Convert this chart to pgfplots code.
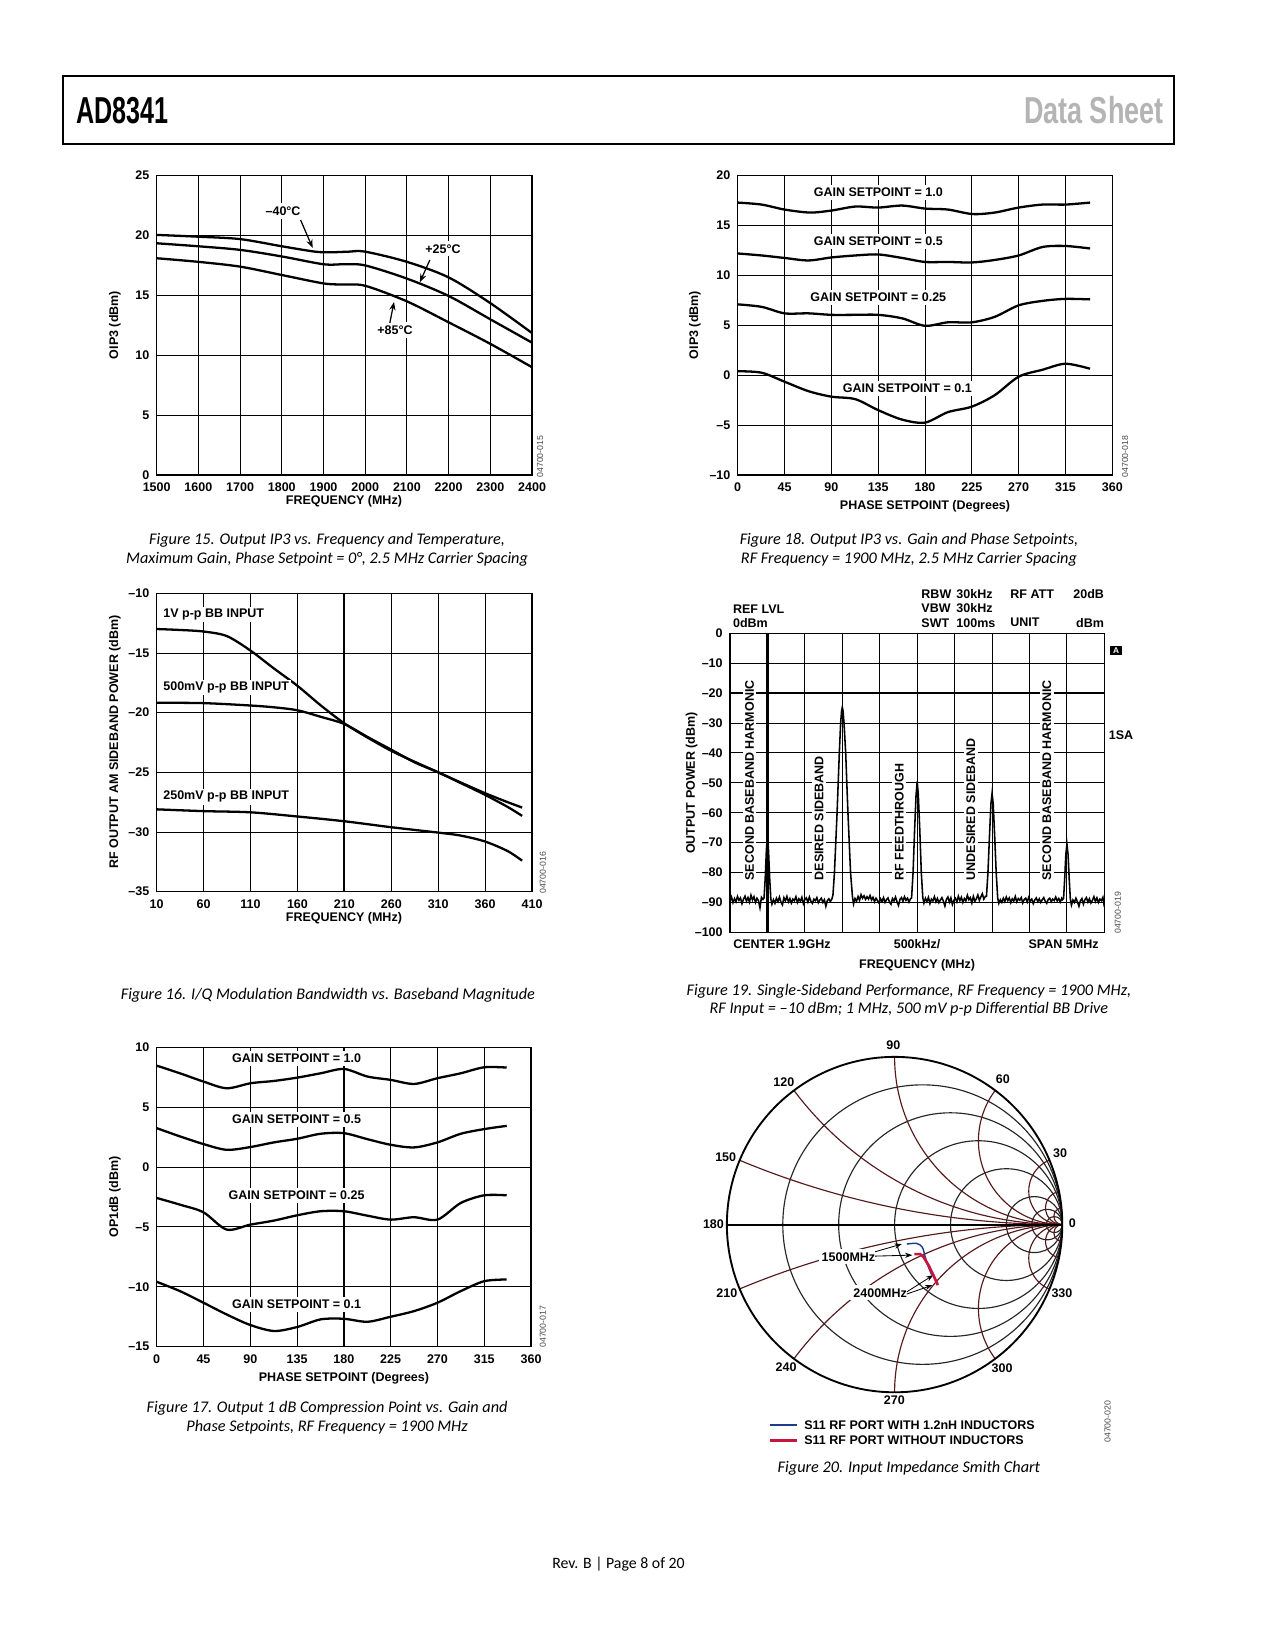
\documentclass[border=0pt]{standalone}
\usepackage{fontspec}
\setmainfont{Liberation Sans}
\newfontfamily\chartfont{Liberation Sans}
\newfontfamily\capfont{Carlito}
\usepackage{graphicx}
\usepackage{pgfplots}
\pgfplotsset{compat=1.18}
\usetikzlibrary{arrows.meta}

\newcommand\lab{\chartfont\bfseries\fontsize{6}{7.2}\selectfont}
\newcommand\capt{\capfont\itshape\fontsize{7.8}{8.8}\selectfont}
\newcommand\idf{\chartfont\fontsize{4.2}{5}\selectfont}

\definecolor{smithgrid}{RGB}{85,25,25}
\definecolor{trblue}{RGB}{30,60,140}
\definecolor{trred}{RGB}{200,20,60}
\definecolor{hdrgray}{RGB}{180,180,180}

\pgfplotsset{
  adi/.style={
    scale only axis,
    anchor=south west,
    axis line style={line width=0.6pt},
    grid=major,
    major grid style={line width=0.45pt,black},
    tick style={draw=none},
    ticklabel style={font=\lab},
    xticklabel style={text height=4.4pt,text depth=0pt},
    /pgf/number format/assume math mode=true,
  },
  curve/.style={black,line width=1.1pt,smooth,no markers},
}
\tikzset{
  rgrid/.style={line width=0.55pt,black!85},
  xgrid/.style={line width=0.55pt,smithgrid},
  tl/.style={font=\lab,inner sep=0pt},
}

\begin{document}
\begin{tikzpicture}
\fill[white] (0,0) rectangle (612pt,-792pt);
\path (0,0) rectangle (612pt,-792pt);

% page header
\draw[line width=1.2pt] (30.2pt,-36.5pt) rectangle (563.5pt,-69.1pt);
\node[anchor=base west,inner sep=0pt] at (36.5pt,-59.5pt)
  {\scalebox{0.67}[1]{\fontsize{18}{18}\selectfont\bfseries AD8341}};
\node[anchor=base east,inner sep=0pt,text=hdrgray] at (558.7pt,-59.5pt)
  {\scalebox{0.72}[1]{\fontsize{18}{18}\selectfont\bfseries Data Sheet}};

% ---------------- Figure 15 ----------------
\begin{axis}[adi, at={(75.2pt,-228pt)}, width=180.2pt, height=143.7pt,
  xmin=1500, xmax=2400, ymin=0, ymax=25,
  xtick={1500,1600,...,2400}, ytick={0,5,...,25},
  xticklabel style={/pgf/number format/1000 sep=}]
\addplot[curve] coordinates {(1500,20.05)(1600,19.9)(1700,19.7)(1800,19.1)(1880,18.65)(1920,18.6)(1960,18.65)(2000,18.65)(2100,17.8)(2200,16.5)(2300,14.35)(2400,11.85)};
\addplot[curve] coordinates {(1500,19.35)(1600,19.1)(1700,18.8)(1800,18.25)(1900,17.6)(1950,17.6)(2000,17.5)(2100,16.4)(2200,14.95)(2300,13.0)(2400,11.05)};
\addplot[curve] coordinates {(1500,18.1)(1600,17.8)(1700,17.4)(1800,16.7)(1900,16.0)(1950,15.9)(2000,15.8)(2100,14.5)(2200,12.75)(2300,10.95)(2400,9.0)};
\node[font=\lab,fill=white,inner sep=1.5pt] at (axis cs:1803,22.05) {–40°C};
\node[font=\lab,fill=white,inner sep=1.5pt] at (axis cs:2186.6,18.88) {+25°C};
\node[font=\lab,fill=white,inner sep=1.5pt] at (axis cs:2071.5,12.11) {+85°C};
\draw[line width=0.6pt,-{Stealth[length=4pt,width=3pt]}] (axis cs:1845,21.3) -- (axis cs:1874,18.96);
\draw[line width=0.6pt,-{Stealth[length=4pt,width=3pt]}] (axis cs:2155,17.96) -- (axis cs:2131,16.1);
\draw[line width=0.6pt,-{Stealth[length=4pt,width=3pt]}] (axis cs:2059,12.7) -- (axis cs:2069,14.45);
\end{axis}
\node[font=\lab,rotate=90] at (55.2pt,-156pt) {OIP3 (dBm)};
\node[font=\lab] at (165.1pt,-240.8pt) {FREQUENCY (MHz)};
\node[font=\idf,rotate=90,text=black!70] at (259.2pt,-219.2pt) {04700-015};
\node[font=\capt,align=center] at (157pt,-263.8pt) {Figure 15. Output IP3 vs. Frequency and Temperature,\\Maximum Gain, Phase Setpoint = 0°, 2.5 MHz Carrier Spacing};

% ---------------- Figure 18 ----------------
\begin{axis}[adi, at={(354.1pt,-228pt)}, width=179.8pt, height=143.7pt,
  xmin=0, xmax=360, ymin=-10, ymax=20,
  xtick={0,45,...,360}, ytick={-10,-5,...,20},
  yticklabels={–10,–5,0,5,10,15,20}]
\addplot[curve] coordinates {(0,17.3)(23,17.1)(45,16.6)(69.5,16.3)(90,16.5)(113,16.9)(135,16.8)(158,17.0)(180,16.7)(202,16.6)(225.5,16.15)(247,16.3)(270,16.8)(293,17.1)(315,17.1)(338.6,17.3)};
\addplot[curve] coordinates {(0,12.2)(23,12.0)(45,11.75)(68,11.5)(90,11.8)(113,12.0)(135,12.1)(158,11.75)(180,11.35)(202,11.35)(225,11.3)(247,11.55)(270,12.0)(293,12.85)(315,12.95)(338.6,12.7)};
\addplot[curve] coordinates {(0,7.1)(23,6.85)(45,6.2)(68,6.2)(90,6.05)(113,6.05)(135,6.05)(158,5.7)(180,4.95)(202,5.3)(225,5.3)(247,5.85)(270,7.0)(293,7.45)(315,7.65)(338.6,7.6)};
\addplot[curve] coordinates {(0,0.4)(23,0.25)(45,-0.65)(68,-1.6)(90,-2.15)(113,-2.4)(135,-3.5)(158,-4.45)(180,-4.75)(202,-3.7)(225,-3.15)(247,-2.0)(270,-0.15)(293,0.55)(315,1.15)(338.6,0.65)};
\node[font=\lab,fill=white,inner sep=1.5pt] at (axis cs:135.1,18.34) {GAIN SETPOINT = 1.0};
\node[font=\lab,fill=white,inner sep=1.5pt] at (axis cs:135.1,13.38) {GAIN SETPOINT = 0.5};
\node[font=\lab,fill=white,inner sep=1.5pt] at (axis cs:135.1,7.77) {GAIN SETPOINT = 0.25};
\node[font=\lab,fill=white,inner sep=1.5pt] at (axis cs:163,-1.35) {GAIN SETPOINT = 0.1};
\end{axis}
\node[font=\lab,rotate=90] at (333.6pt,-156pt) {OIP3 (dBm)};
\node[font=\lab] at (444pt,-243pt) {PHASE SETPOINT (Degrees)};
\node[font=\idf,rotate=90,text=black!70] at (540pt,-219.2pt) {04700-018};
\node[font=\capt,align=center] at (436.3pt,-263.8pt) {Figure 18. Output IP3 vs. Gain and Phase Setpoints,\\RF Frequency = 1900 MHz, 2.5 MHz Carrier Spacing};

% ---------------- Figure 16 ----------------
\begin{axis}[adi, at={(75.2pt,-428pt)}, width=180.2pt, height=143.2pt,
  xmin=10, xmax=410, ymin=-35, ymax=-10,
  xtick={10,60,...,410}, ytick={-35,-30,...,-10},
  yticklabels={–35,–30,–25,–20,–15,–10}]
\draw[line width=0.9pt] (axis cs:210,-35) -- (axis cs:210,-10);
\addplot[curve] coordinates {(10,-12.99)(34.9,-13.07)(60,-13.2)(84.7,-13.58)(110,-14.8)(135,-16.3)(160,-17.75)(185,-19.4)(210,-20.9)(235,-22.1)(260,-23.2)(284.5,-24.1)(310,-25.0)(334,-25.9)(359,-26.85)(384,-27.9)(399.4,-28.65)};
\addplot[curve] coordinates {(10,-19.17)(60,-19.2)(110,-19.4)(135,-19.55)(160,-19.8)(185,-20.35)(210,-20.95)(235,-22.05)(260,-23.1)(284.5,-24.15)(310,-25.0)(334,-25.85)(360,-26.75)(384,-27.5)(399.4,-27.95)};
\addplot[curve] coordinates {(10,-28.1)(60,-28.25)(110,-28.35)(160,-28.7)(210,-29.1)(260,-29.6)(310,-30.05)(334,-30.3)(360,-30.8)(384,-31.6)(399.4,-32.4)};
\node[font=\lab,fill=white,inner sep=1pt,anchor=west] at (axis cs:14.5,-11.76) {1V p-p BB INPUT};
\node[font=\lab,fill=white,inner sep=1pt,anchor=west] at (axis cs:14.5,-17.91) {500mV p-p BB INPUT};
\node[font=\lab,fill=white,inner sep=1pt,anchor=west] at (axis cs:14.5,-27.05) {250mV p-p BB INPUT};
\end{axis}
\node[font=\lab,rotate=90] at (55.2pt,-356.2pt) {RF OUTPUT AM SIDEBAND POWER (dBm)};
\node[font=\lab] at (165.1pt,-440.6pt) {FREQUENCY (MHz)};
\node[font=\idf,rotate=90,text=black!70] at (260.6pt,-419pt) {04700-016};
\node[font=\capt] at (157.4pt,-477.6pt) {Figure 16. I/Q Modulation Bandwidth vs. Baseband Magnitude};

% ---------------- Figure 17 ----------------
\begin{axis}[adi, at={(75.2pt,-646.4pt)}, width=179.7pt, height=143.7pt,
  xmin=0, xmax=360, ymin=-15, ymax=10,
  xtick={0,45,...,360}, ytick={-15,-10,...,10},
  yticklabels={–15,–10,–5,0,5,10}]
\draw[line width=0.9pt] (axis cs:180,-15) -- (axis cs:180,10);
\addplot[curve] coordinates {(0,8.47)(22.4,7.83)(45,7.14)(67.3,6.58)(90.4,7.0)(112.8,7.19)(135.3,7.47)(157.7,7.83)(180.2,8.19)(202.6,7.56)(225,7.28)(247.5,6.94)(270,7.42)(292.4,7.83)(314.8,8.33)(336.6,8.31)};
\addplot[curve] coordinates {(0,3.25)(22.4,2.56)(45,1.92)(67.3,1.44)(90,1.67)(112.8,2.06)(135,2.36)(157.7,2.78)(180,2.83)(202.6,2.33)(225,1.86)(247.5,1.64)(270,2.06)(292.4,2.78)(315,3.17)(336.6,3.44)};
\addplot[curve] coordinates {(0,-2.58)(22.4,-3.14)(45,-3.78)(67.3,-5.22)(90,-4.81)(112.8,-4.47)(135,-4.03)(157.7,-3.69)(180,-3.69)(202.6,-4.06)(225,-4.39)(247.5,-4.19)(270,-4.39)(292.4,-3.0)(315,-2.36)(336.6,-2.36)};
\addplot[curve] coordinates {(0,-9.58)(22.4,-10.36)(45,-11.33)(67.3,-12.31)(90,-13.19)(112.8,-13.69)(135,-13.36)(157.7,-12.72)(180,-12.67)(202.6,-12.92)(225,-12.5)(247.5,-12.03)(270,-11.33)(292.4,-10.36)(315,-9.53)(336.6,-9.39)};
\node[font=\lab,fill=white,inner sep=1.5pt] at (axis cs:134.6,9.08) {GAIN SETPOINT = 1.0};
\node[font=\lab,fill=white,inner sep=1.5pt] at (axis cs:134.6,3.99) {GAIN SETPOINT = 0.5};
\node[font=\lab,fill=white,inner sep=1.5pt] at (axis cs:134.6,-2.39) {GAIN SETPOINT = 0.25};
\node[font=\lab,fill=white,inner sep=1.5pt] at (axis cs:134.6,-11.46) {GAIN SETPOINT = 0.1};
\end{axis}
\node[font=\lab,rotate=90] at (55.2pt,-574.6pt) {OP1dB (dBm)};
\node[font=\lab] at (165.1pt,-661.6pt) {PHASE SETPOINT (Degrees)};
\node[font=\idf,rotate=90,text=black!70] at (260.6pt,-636.8pt) {04700-017};
\node[font=\capt,align=center] at (157pt,-680.4pt) {Figure 17. Output 1 dB Compression Point vs. Gain and\\Phase Setpoints, RF Frequency = 1900 MHz};

% ---------------- Figure 19 ----------------
\begin{axis}[adi, at={(350.4pt,-447.5pt)}, width=179.7pt, height=143.5pt,
  xmin=0, xmax=10, ymin=-100, ymax=0,
  xtick={0,1,...,10}, xticklabels={},
  ytick={-100,-90,...,0},
  yticklabels={–100,–90,–80,–70,–60,–50,–40,–30,–20,–10,0}]
\draw[line width=1.1pt] (axis cs:0,-20) -- (axis cs:10,-20);
\draw[line width=1.1pt] (axis cs:1,-100) -- (axis cs:1,0);
\node[font=\lab,fill=white,inner sep=1.2pt,rotate=90,anchor=west] at (axis cs:0.52,-83.6) {SECOND BASEBAND HARMONIC};
\node[font=\lab,fill=white,inner sep=1.2pt,rotate=90,anchor=west] at (axis cs:2.38,-83.6) {DESIRED SIDEBAND};
\node[font=\lab,fill=white,inner sep=1.2pt,rotate=90,anchor=west] at (axis cs:4.52,-83.6) {RF FEEDTHROUGH};
\node[font=\lab,fill=white,inner sep=1.2pt,rotate=90,anchor=west] at (axis cs:6.43,-83.6) {UNDESIRED SIDEBAND};
\node[font=\lab,fill=white,inner sep=1.2pt,rotate=90,anchor=west] at (axis cs:8.46,-83.6) {SECOND BASEBAND HARMONIC};
\addplot[black,line width=0.75pt,no markers] coordinates {
(0.00,-89.5)(0.04,-88.2)(0.08,-90.1)(0.12,-88.7)(0.16,-89.8)(0.20,-88.0)(0.24,-89.3)(0.28,-88.5)(0.32,-90.4)(0.36,-88.9)(0.40,-87.9)(0.44,-89.6)(0.48,-88.4)(0.52,-89.9)(0.56,-87.6)(0.60,-89.2)(0.64,-88.1)(0.68,-90.0)(0.72,-88.6)(0.76,-89.4)(0.80,-91.8)(0.84,-88.3)(0.88,-89.0)
(0.91,-88.5)(0.94,-82)(0.97,-73)(1.00,-67)(1.03,-73)(1.06,-82)(1.09,-88.8)
(1.12,-90.6)(1.16,-89.1)(1.20,-90.3)(1.24,-88.6)(1.28,-89.7)(1.32,-88.2)(1.36,-89.9)(1.40,-90.8)(1.44,-88.4)(1.48,-89.5)(1.52,-88.0)(1.56,-89.8)(1.60,-88.7)(1.64,-90.2)(1.68,-88.9)(1.72,-89.4)(1.76,-88.1)(1.80,-90.0)(1.84,-88.8)(1.88,-89.6)(1.92,-88.3)(1.96,-90.4)(2.00,-89.0)(2.04,-88.5)(2.08,-89.9)(2.12,-88.2)(2.16,-89.6)(2.20,-90.3)(2.24,-88.9)(2.28,-89.4)(2.32,-88.4)(2.36,-90.1)(2.40,-89.2)(2.44,-88.6)(2.48,-90.0)(2.52,-89.1)(2.56,-91.3)(2.60,-89.4)(2.64,-88.8)(2.68,-89.7)(2.72,-88.9)
(2.75,-87.5)(2.79,-80)(2.86,-60)(2.92,-40)(2.955,-30)(2.98,-26)(3.0,-24.7)(3.02,-26)(3.045,-30)(3.09,-40)(3.15,-60)(3.22,-80)(3.27,-88)
(3.30,-90.5)(3.34,-88.7)(3.38,-89.6)(3.42,-88.0)(3.46,-89.3)(3.50,-87.4)(3.54,-88.6)(3.58,-87.8)(3.62,-89.0)(3.66,-88.1)(3.70,-88.9)(3.74,-87.7)(3.78,-89.2)(3.82,-88.3)(3.86,-89.8)(3.90,-88.6)(3.94,-89.4)(3.98,-90.2)(4.02,-88.8)(4.06,-89.7)(4.10,-88.4)(4.14,-90.0)(4.18,-89.1)(4.22,-88.5)(4.26,-89.9)(4.30,-90.6)(4.34,-88.7)(4.38,-89.5)(4.42,-88.2)(4.46,-89.8)(4.50,-91.0)(4.54,-89.0)(4.58,-88.4)(4.62,-89.6)(4.66,-88.1)(4.70,-89.3)(4.74,-88.6)(4.78,-89.9)(4.82,-88.8)
(4.85,-88.5)(4.89,-80)(4.93,-66)(4.97,-54)(5.0,-49.5)(5.03,-54)(5.07,-66)(5.11,-80)(5.15,-88.5)
(5.18,-90.2)(5.22,-88.6)(5.26,-89.7)(5.30,-88.3)(5.34,-90.4)(5.38,-88.9)(5.42,-89.5)(5.46,-88.1)(5.50,-89.8)(5.54,-88.7)(5.58,-90.1)(5.62,-89.2)(5.66,-88.4)(5.70,-89.6)(5.74,-91.2)(5.78,-89.0)(5.82,-88.2)(5.86,-89.9)(5.90,-88.5)(5.94,-90.7)(5.98,-89.3)(6.02,-88.6)(6.06,-89.8)(6.10,-87.9)(6.14,-89.4)(6.18,-88.3)(6.22,-90.0)(6.26,-88.7)(6.30,-89.5)(6.34,-87.6)(6.38,-89.1)(6.42,-88.4)(6.46,-90.2)(6.50,-88.0)(6.54,-89.6)(6.58,-88.8)(6.62,-87.5)(6.66,-89.3)(6.70,-88.2)(6.74,-87.1)(6.78,-88.9)(6.82,-88.0)
(6.85,-88)(6.89,-80)(6.93,-68)(6.97,-57)(7.0,-53.5)(7.03,-57)(7.07,-68)(7.11,-80)(7.15,-88.5)
(7.18,-90.3)(7.22,-89.1)(7.26,-90.0)(7.30,-88.6)(7.34,-89.7)(7.38,-88.2)(7.42,-89.4)(7.46,-88.5)(7.50,-90.1)(7.54,-88.8)(7.58,-89.5)(7.62,-88.0)(7.66,-89.8)(7.70,-88.7)(7.74,-89.3)(7.78,-88.4)(7.82,-90.2)(7.86,-89.0)(7.90,-88.6)(7.94,-89.9)(7.98,-88.3)(8.02,-89.5)(8.06,-88.9)(8.10,-90.4)(8.14,-89.2)(8.18,-88.5)(8.22,-89.7)(8.26,-88.8)(8.30,-90.0)(8.34,-89.1)(8.38,-88.4)(8.42,-89.6)(8.46,-90.3)(8.50,-89.0)(8.54,-88.6)(8.58,-89.8)(8.62,-88.9)(8.66,-89.4)(8.70,-88.2)(8.74,-89.5)(8.78,-88.7)(8.82,-89.9)(8.86,-88.6)(8.88,-89.1)
(8.91,-88.7)(8.94,-82)(8.97,-74)(9.0,-70.5)(9.03,-74)(9.06,-82)(9.09,-88.8)
(9.12,-90.9)(9.16,-89.2)(9.20,-90.0)(9.24,-88.6)(9.28,-89.8)(9.32,-91.3)(9.36,-89.4)(9.40,-88.7)(9.44,-90.6)(9.48,-89.1)(9.52,-88.4)(9.56,-89.9)(9.60,-88.8)(9.64,-90.2)(9.68,-89.3)(9.72,-88.1)(9.76,-89.7)(9.80,-88.5)(9.84,-90.0)(9.88,-88.9)(9.92,-89.4)(9.96,-88.3)(10.0,-91.5)};
\end{axis}
\node[tl,anchor=west] at (351.7pt,-292.3pt) {REF LVL};
\node[tl,anchor=west] at (351.7pt,-298.9pt) {0dBm};
\node[tl,anchor=west] at (442.1pt,-285.1pt) {RBW};
\node[tl,anchor=west] at (442.1pt,-291.7pt) {VBW};
\node[tl,anchor=west] at (442.1pt,-298.9pt) {SWT};
\node[tl,anchor=west] at (458.9pt,-285.1pt) {30kHz};
\node[tl,anchor=west] at (458.9pt,-291.7pt) {30kHz};
\node[tl,anchor=west] at (458.9pt,-298.9pt) {100ms};
\node[tl,anchor=west] at (484.8pt,-285.1pt) {RF ATT};
\node[tl,anchor=west] at (484.8pt,-298.9pt) {UNIT};
\node[tl,anchor=east] at (530.1pt,-285.1pt) {20dB};
\node[tl,anchor=east] at (530.1pt,-298.9pt) {dBm};
\node[fill=black,text=white,inner xsep=1.6pt,inner ysep=0.6pt,font=\chartfont\bfseries\fontsize{4}{4}\selectfont] at (535.7pt,-312.2pt) {A};
\node[font=\lab] at (538.1pt,-352.8pt) {1SA};
\node[tl,anchor=west] at (351.8pt,-453.1pt) {CENTER 1.9GHz};
\node[tl] at (440.2pt,-453.1pt) {500kHz/};
\node[tl,anchor=east] at (527.5pt,-453.1pt) {SPAN 5MHz};
\node[font=\lab] at (440.2pt,-463.2pt) {FREQUENCY (MHz)};
\node[font=\lab,rotate=90] at (332pt,-375.8pt) {OUTPUT POWER (dBm)};
\node[font=\idf,rotate=90,text=black!70] at (536.6pt,-438.2pt) {04700-019};
\node[font=\capt,align=center] at (436.3pt,-480.2pt) {Figure 19. Single-Sideband Performance, RF Frequency = 1900 MHz,\\RF Input = –10 dBm; 1 MHz, 500 mV p-p Differential BB Drive};

% ---------------- Figure 20 (Smith chart) ----------------
\begin{axis}[scale only axis, anchor=center, at={(429.4pt,-587.8pt)},
  width=161pt, height=161pt, xmin=-1, xmax=1, ymin=-1, ymax=1,
  hide axis, clip=false]
\begin{scope}
\clip (axis cs:0,0) circle [radius=1];
% constant resistance circles r = 0.2, 0.5, 1, 2, 5, 10, 20
\draw[rgrid] (axis cs:0.1667,0) circle [radius=0.8333];
\draw[rgrid] (axis cs:0.3333,0) circle [radius=0.6667];
\draw[rgrid] (axis cs:0.5,0) circle [radius=0.5];
\draw[rgrid] (axis cs:0.6667,0) circle [radius=0.3333];
\draw[rgrid] (axis cs:0.8333,0) circle [radius=0.1667];
\draw[rgrid] (axis cs:0.9091,0) circle [radius=0.0909];
\draw[rgrid] (axis cs:0.9524,0) circle [radius=0.0476];
% constant reactance arcs x = 0.2, 0.5, 1, 2, 5, 10, 20
\draw[xgrid] (axis cs:1,5) circle [radius=5];
\draw[xgrid] (axis cs:1,-5) circle [radius=5];
\draw[xgrid] (axis cs:1,2) circle [radius=2];
\draw[xgrid] (axis cs:1,-2) circle [radius=2];
\draw[xgrid] (axis cs:1,1) circle [radius=1];
\draw[xgrid] (axis cs:1,-1) circle [radius=1];
\draw[xgrid] (axis cs:1,0.5) circle [radius=0.5];
\draw[xgrid] (axis cs:1,-0.5) circle [radius=0.5];
\draw[xgrid] (axis cs:1,0.2) circle [radius=0.2];
\draw[xgrid] (axis cs:1,-0.2) circle [radius=0.2];
\draw[xgrid] (axis cs:1,0.1) circle [radius=0.1];
\draw[xgrid] (axis cs:1,-0.1) circle [radius=0.1];
\draw[xgrid] (axis cs:1,0.05) circle [radius=0.05];
\draw[xgrid] (axis cs:1,-0.05) circle [radius=0.05];
\end{scope}
\draw[line width=0.9pt] (axis cs:0,0) circle [radius=1];
\draw[line width=0.9pt] (axis cs:-1,0) -- (axis cs:1,0);
\node[font=\lab] at (axis cs:-0.007,1.072) {90};
\node[font=\lab] at (axis cs:0.646,0.866) {60};
\node[font=\lab] at (axis cs:-0.66,0.852) {120};
\node[font=\lab] at (axis cs:-1.007,0.403) {150};
\node[font=\lab] at (axis cs:0.987,0.424) {30};
\node[font=\lab] at (axis cs:-1.08,0.003) {180};
\node[font=\lab] at (axis cs:1.06,0.007) {0};
\node[font=\lab] at (axis cs:-1.0,-0.407) {210};
\node[font=\lab] at (axis cs:0.998,-0.407) {330};
\node[font=\lab] at (axis cs:-0.647,-0.848) {240};
\node[font=\lab] at (axis cs:0.641,-0.854) {300};
\node[font=\lab] at (axis cs:-0.001,-1.045) {270};
\node[font=\lab,fill=white,inner sep=1.5pt] at (axis cs:-0.275,-0.192) {1500MHz};
\node[font=\lab,fill=white,inner sep=1.5pt] at (axis cs:-0.086,-0.407) {2400MHz};
\draw[line width=0.4pt,-{Stealth[length=3.5pt,width=2.5pt]}] (axis cs:-0.116,-0.162) -- (axis cs:0.043,-0.116);
\draw[line width=0.4pt,-{Stealth[length=3.5pt,width=2.5pt]}] (axis cs:-0.116,-0.188) -- (axis cs:0.106,-0.182);
\draw[line width=0.4pt,-{Stealth[length=3.5pt,width=2.5pt]}] (axis cs:0.073,-0.401) -- (axis cs:0.231,-0.301);
\draw[line width=0.4pt,-{Stealth[length=3.5pt,width=2.5pt]}] (axis cs:0.073,-0.414) -- (axis cs:0.225,-0.361);
\addplot[trblue,line width=0.7pt,smooth,no markers] coordinates {(0.073,-0.116)(0.132,-0.112)(0.166,-0.136)(0.182,-0.192)(0.202,-0.252)(0.222,-0.301)};
\addplot[trred,line width=1.3pt,no markers] coordinates {(0.118,-0.176)(0.152,-0.176)(0.172,-0.192)(0.202,-0.242)(0.231,-0.301)(0.258,-0.361)};
\end{axis}
\draw[trblue,line width=0.6pt] (369.6pt,-684pt) -- (382.7pt,-684pt);
\draw[trred,line width=1.6pt] (369.6pt,-691.5pt) -- (382.7pt,-691.5pt);
\node[tl,anchor=west] at (385.9pt,-684pt) {S11 RF PORT WITH 1.2nH INDUCTORS};
\node[tl,anchor=west] at (385.9pt,-691.5pt) {S11 RF PORT WITHOUT INDUCTORS};
\node[font=\idf,rotate=90,text=black!70] at (531.7pt,-682.4pt) {04700-020};
\node[font=\capt] at (436.3pt,-704.9pt) {Figure 20. Input Impedance Smith Chart};

% footer
\node[font=\capfont\fontsize{7.6}{9}\selectfont] at (296.9pt,-751pt) {Rev. B | Page 8 of 20};
\end{tikzpicture}
\end{document}
